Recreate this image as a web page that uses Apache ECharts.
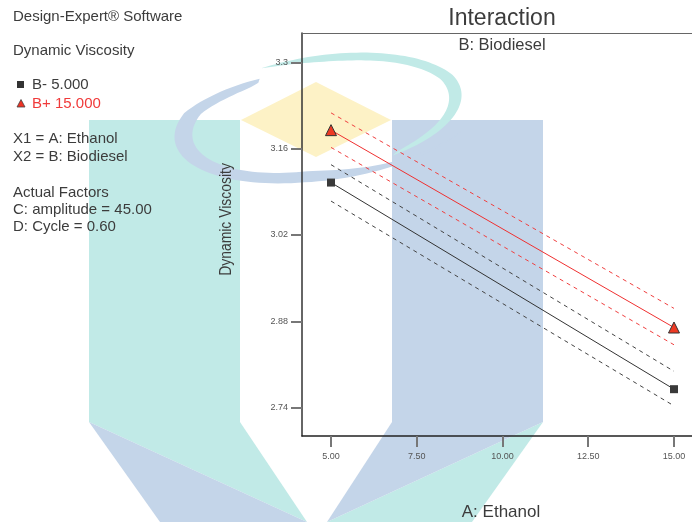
<!DOCTYPE html>
<html>
<head>
<meta charset="utf-8">
<script src="https://cdn.jsdelivr.net/npm/echarts@6/dist/echarts.min.js"></script>
<style>
html,body{margin:0;padding:0;background:#fff;}
#chart{width:692px;height:522px;}
</style>
</head>
<body>
<div id="chart"></div>
<script>
// ---- data ----
const xTickVals = [5, 7.5, 10, 12.5, 15];
const xTickLabels = ['5.00', '7.50', '10.00', '12.50', '15.00'];
const yTickVals = [2.74, 2.88, 3.02, 3.16, 3.3];
const yTickLabels = ['2.74', '2.88', '3.02', '3.16', '3.3'];
const ethanolLevels = [5, 15];
const bLowMean = [3.105, 2.770];
const bLowUpper = [3.134, 2.799];
const bLowLower = [3.075, 2.743];
const bHighMean = [3.190, 2.870];
const bHighUpper = [3.218, 2.901];
const bHighLower = [3.162, 2.842];
const infoLines = ['X1 = A: Ethanol', 'X2 = B: Biodiesel', 'Actual Factors', 'C: amplitude = 45.00', 'D: Cycle = 0.60'];

const FONT = '"Liberation Sans", Arial, sans-serif';
const TXT = '#3c3c3c';
const RED = '#f03a3a';

function pairs(vals) { return ethanolLevels.map((x, i) => [x, vals[i]]); }

// ---- watermark (decoration) ----
const TEAL = '#c1eae7', BLUE = '#c4d5e9', YEL = '#fdf2c6';
const CX = 320, CY = 118, RX = 147, RY = 62, TH = -9 * Math.PI / 180;
function ellPt(t, k) {
  const a = t * Math.PI / 180;
  const x = k * RX * Math.cos(a), y = k * RY * Math.sin(a);
  return [CX + x * Math.cos(TH) - y * Math.sin(TH), CY + x * Math.sin(TH) + y * Math.cos(TH)];
}
function interp(ctrl, t) {
  for (let i = 0; i < ctrl.length - 1; i++) {
    const [t0, k0] = ctrl[i], [t1, k1] = ctrl[i + 1];
    if ((t - t0) * (t - t1) <= 0) return k0 + (k1 - k0) * (t - t0) / (t1 - t0);
  }
  return ctrl[ctrl.length - 1][1];
}
function arcPoly(t0, t1, kCtrl, wFn) {
  const outer = [], inner = [], N = 80;
  for (let i = 0; i <= N; i++) {
    const s = i / N, t = t0 + (t1 - t0) * s;
    const p = ellPt(t, interp(kCtrl, t));
    const w = wFn(s);
    const dx = p[0] - CX, dy = p[1] - CY, d = Math.hypot(dx, dy);
    outer.push(p);
    inner.push([CX + dx * (1 - w / d), CY + dy * (1 - w / d)]);
  }
  return outer.concat(inner.reverse());
}
const blueArc = arcPoly(245, 30, [[245, 0.86], [205, 1.0], [100, 1.0], [30, 1.1]],
  s => 18 * Math.pow(Math.max(0, Math.sin(Math.PI * Math.pow(s, 0.576))), 0.9));
const tealArc = arcPoly(250, 420, [[250, 1.0], [340, 1.0], [420, 0.9]],
  s => 13 * Math.pow(Math.max(0, Math.sin(Math.PI * Math.pow(s, 1.16))), 0.6));

const wm = [
  { type: 'rect', shape: { x: 89, y: 120, width: 151, height: 302 }, style: { fill: TEAL } },
  { type: 'polygon', shape: { points: [[89, 422], [240, 422], [307, 522]] }, style: { fill: TEAL } },
  { type: 'polygon', shape: { points: [[89, 422], [307, 522], [160, 522]] }, style: { fill: BLUE } },
  { type: 'rect', shape: { x: 392, y: 120, width: 151, height: 302 }, style: { fill: BLUE } },
  { type: 'polygon', shape: { points: [[543, 422], [327, 522], [472, 522]] }, style: { fill: TEAL } },
  { type: 'polygon', shape: { points: [[392, 422], [543, 422], [327, 522]] }, style: { fill: BLUE } },
  { type: 'polygon', shape: { points: [[241, 120], [316, 82], [391, 120], [316, 157]] }, style: { fill: YEL } },
  { type: 'polygon', shape: { points: blueArc }, style: { fill: BLUE } },
  { type: 'polygon', shape: { points: tealArc }, style: { fill: TEAL } }
].map(e => Object.assign(e, { z: -10, silent: true }));

function txt(text, x, y, size, opts) {
  return Object.assign({
    type: 'text', x: x, y: y, z: 10,
    style: Object.assign({ text: text, font: size + 'px ' + FONT, fill: TXT, textAlign: 'left', textVerticalAlign: 'middle' }, (opts && opts.style) || {})
  }, (opts && opts.el) || {});
}

const infoY = [138.5, 156.7, 192.5, 209.8, 226.7];
const texts = [
  txt('Design-Expert® Software', 13, 16.5, 15),
  txt('Dynamic Viscosity', 13, 51, 15),
  { type: 'rect', z: 10, shape: { x: 17, y: 81, width: 7, height: 7 }, style: { fill: '#333' } },
  txt('B- 5.000', 32, 85, 15),
  { type: 'polygon', z: 10, shape: { points: [[21, 99.5], [25, 107], [17, 107]] }, style: { fill: '#ee3324', stroke: '#444', lineWidth: 0.8 } },
  txt('B+ 15.000', 32, 104, 15, { style: { fill: RED } }),
  ...infoLines.map((s, i) => txt(s, 13, infoY[i], 15)),
  txt('Interaction', 502, 19, 23, { style: { textAlign: 'center' } }),
  txt('B: Biodiesel', 502, 45.5, 16.5, { style: { textAlign: 'center' } }),
  txt('A: Ethanol', 501, 512, 17, { style: { textAlign: 'center' } }),
  txt('Dynamic Viscosity', 226.5, 219.5, 16, { style: { textAlign: 'center' }, el: { rotation: Math.PI / 2, scaleX: 0.87 } })
];

function lineSeries(name, vals, color, dashed, symbol, symSize, fill) {
  return {
    name: name, type: 'line', data: pairs(vals),
    symbol: symbol || 'none', symbolSize: symSize || 0, showSymbol: !!symbol,
    lineStyle: { color: color, width: 1, type: dashed ? [4, 4] : 'solid' },
    itemStyle: { color: fill || color, borderColor: '#333', borderWidth: symbol === 'triangle' ? 1 : 0 },
    z: symbol ? 5 : 3, silent: true, animation: false
  };
}

const chart = echarts.init(document.getElementById('chart'), null, { renderer: 'canvas' });
chart.setOption({
  animation: false,
  backgroundColor: '#fff',
  grid: { left: 302, top: 33, right: 0, bottom: 86, containLabel: false, outerBoundsMode: 'none' },
  xAxis: [{
    type: 'value', min: 4.1545, max: 15.525,
    axisLine: { show: true, onZero: false, lineStyle: { color: '#222', width: 1.5 } },
    axisTick: { show: true, customValues: xTickVals, length: 11, inside: false, lineStyle: { color: '#777', width: 2 } },
    axisLabel: { show: true, customValues: xTickVals, formatter: v => xTickLabels[xTickVals.indexOf(v)] ?? '', fontSize: 9, fontFamily: FONT, color: '#555', margin: 16 },
    splitLine: { show: false }
  }, {
    type: 'value', position: 'top', min: 4.1545, max: 15.525,
    axisLine: { show: true, onZero: false, lineStyle: { color: '#666', width: 1 } },
    axisTick: { show: false }, axisLabel: { show: false }, splitLine: { show: false }
  }],
  yAxis: {
    type: 'value', min: 2.6941, max: 3.3475,
    axisLine: { show: true, onZero: false, lineStyle: { color: '#333', width: 1.5 } },
    axisTick: { show: true, customValues: yTickVals, length: 11, inside: false, lineStyle: { color: '#777', width: 2 } },
    axisLabel: { show: true, customValues: yTickVals, formatter: v => { const i = yTickVals.findIndex(u => Math.abs(u - v) < 1e-6); return i >= 0 ? yTickLabels[i] : ''; }, fontSize: 9, fontFamily: FONT, color: '#555', margin: 14 },
    splitLine: { show: false }
  },
  graphic: { elements: wm.concat(texts) },
  series: [
    lineSeries('B- upper', bLowUpper, '#444', true),
    lineSeries('B- lower', bLowLower, '#444', true),
    lineSeries('B+ upper', bHighUpper, '#f04040', true),
    lineSeries('B+ lower', bHighLower, '#f04040', true),
    lineSeries('B- 5.000', bLowMean, '#333', false, 'rect', 8, '#3a3a3a'),
    lineSeries('B+ 15.000', bHighMean, '#f03030', false, 'triangle', 11, '#ee3a24')
  ]
});
</script>
</body>
</html>
